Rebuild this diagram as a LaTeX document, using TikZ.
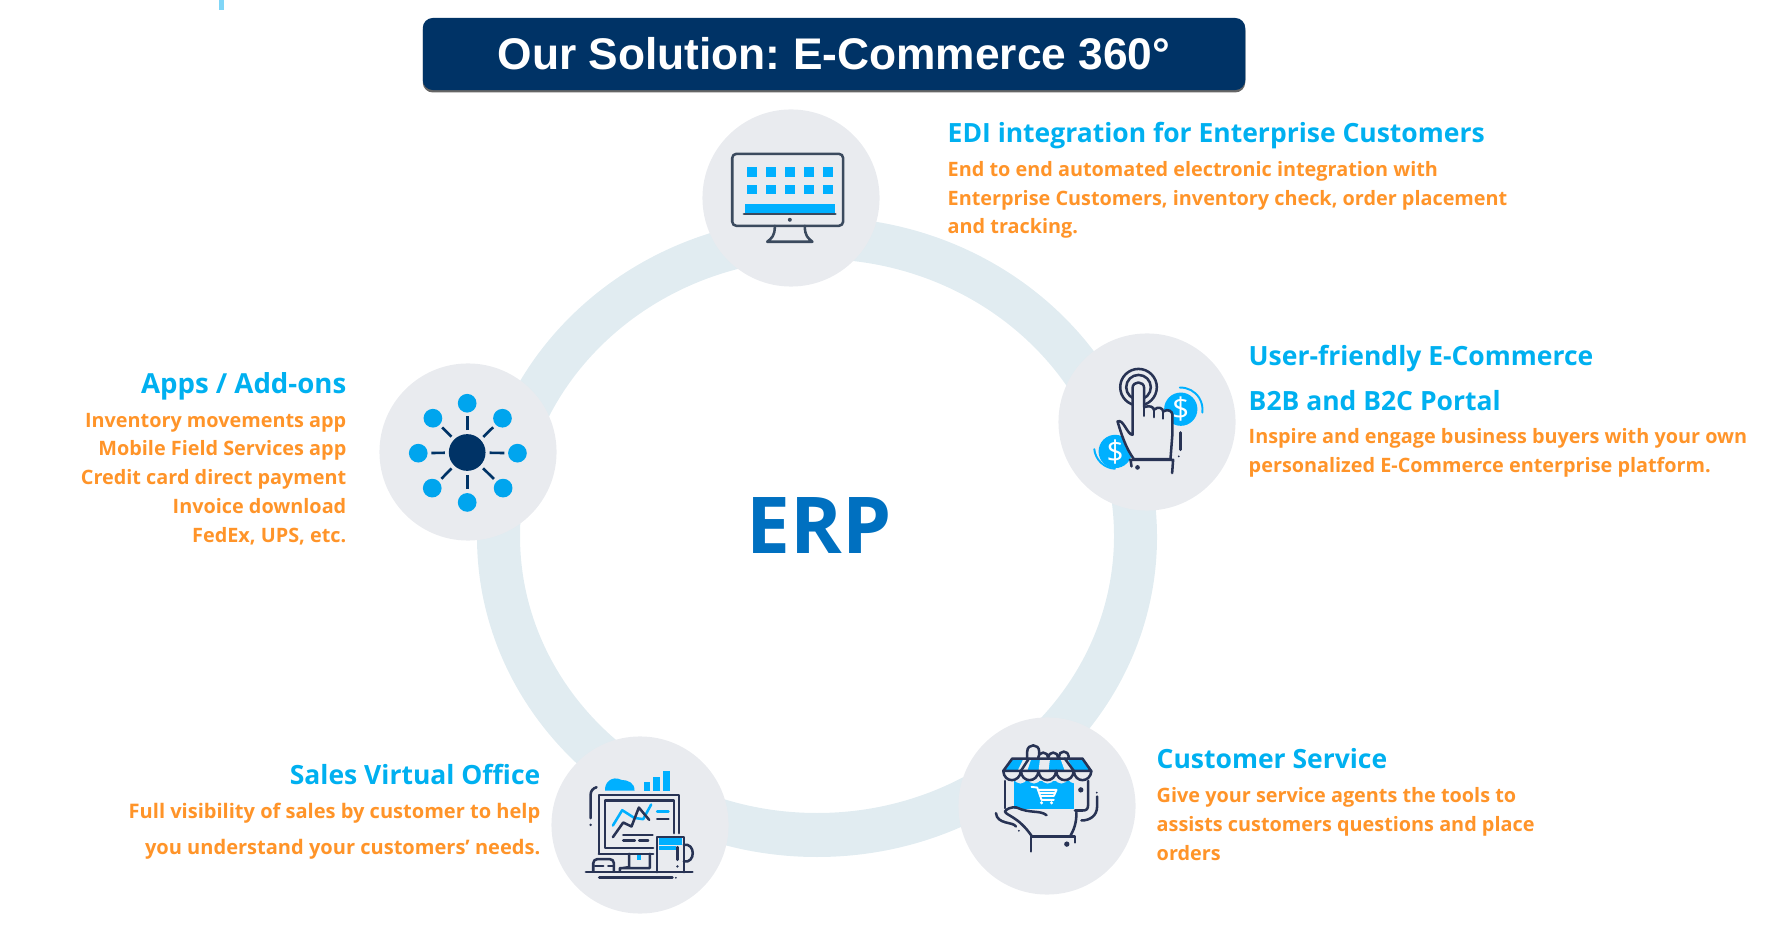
\documentclass[tikz,border=0pt]{standalone}
\usepackage{fontspec}
\setmainfont{Open Sans}
\newfontfamily\titlefont{Liberation Sans}
\usetikzlibrary{shadows}

\definecolor{navy}{HTML}{003366}
\definecolor{ringblue}{HTML}{E1ECF1}
\definecolor{padgray}{HTML}{E9EBEF}
\definecolor{headblue}{HTML}{00B0F0}
\definecolor{bodyorange}{HTML}{FF9429}
\definecolor{erpblue}{HTML}{0070C0}
\definecolor{iconcyan}{HTML}{00B0FF}
\definecolor{icondark}{HTML}{283354}
\definecolor{screendark}{HTML}{3B4A5E}
\definecolor{leafblue}{HTML}{00A5EE}

\tikzset{
  pad/.style={circle,fill=padgray,inner sep=0,minimum size=1.77cm},
  headtext/.style={anchor=west,inner sep=0,text=headblue,font=\fontsize{7.53}{13}\selectfont\bfseries},
  bodytext/.style={anchor=west,inner sep=0,text=bodyorange,font=\fontsize{5.64}{8.2}\selectfont\bfseries},
  iconline/.style={draw=icondark,line width=0.72pt,line cap=round,line join=round},
  coinlabel/.style={inner sep=0,text=white,font=\fontsize{8.5}{9}\selectfont},
  zoomed/.style={x=0.003333cm,y=-0.003333cm},
}

\begin{document}
\begin{tikzpicture}[x=0.01cm,y=-0.01cm]
  \useasboundingbox (0,0) rectangle (1767,934);

  \fill[ringblue,even odd rule] (817,537) ellipse [x radius=340,y radius=320]
    (817,536) ellipse [x radius=297,y radius=277];
  \fill[cyan!50] (219,0) rectangle (224,10);

  \node[rectangle,rounded corners=0.1cm,fill=navy,minimum width=8.22cm,minimum height=0.72cm,inner sep=0,
    drop shadow={shadow xshift=0pt,shadow yshift=-0.7pt,opacity=0.6,fill=black},
    text=white,font=\titlefont\fontsize{12.6}{15}\selectfont\bfseries\frenchspacing] (title) at (834,54) {Our Solution: E-Commerce 360°};

  \node[pad] (padedi) at (791,198) {};
  \node[pad] (padportal) at (1147,422) {};
  \node[pad] (padservice) at (1047,806) {};
  \node[pad] (padsales) at (640,825) {};
  \node[pad] (padapps) at (468,452) {};

  \node[inner sep=0,text=erpblue,font=\fontsize{22.3}{26}\selectfont\bfseries] (erp) at (819,526) {ERP};

  \node[headtext] (headedi) at (947,136) {EDI integration for Enterprise Customers};
  \node[bodytext,align=left] (bodyedi) at (947,200) {End to end automated electronic integration with\\
    Enterprise Customers, inventory check, order placement\\and tracking.};

  \node[headtext,align=left] (headportal) at (1248,378) {User-friendly E-Commerce\\B2B and B2C Portal};
  \node[bodytext,align=left] (bodyportal) at (1248,453) {Inspire and engage business buyers with your own\\
    personalized E-Commerce enterprise platform.};

  \node[headtext] (headservice) at (1156,759) {Customer Service};
  \node[bodytext,align=left] (bodyservice) at (1156,824) {Give your service agents the tools to\\
    assists customers questions and place\\orders};

  \node[headtext,anchor=east] (headsales) at (541,774) {Sales Virtual Office};
  \node[bodytext,anchor=east,align=right,font=\fontsize{5.7}{10.2}\selectfont\bfseries] (bodysales) at (541,831)
    {Full visibility of sales by customer to help\\you understand your customers’ needs.};

  \node[headtext,anchor=east,font=\fontsize{7.85}{13}\selectfont\bfseries] (headapps) at (347,386) {Apps / Add-ons};
  \node[bodytext,anchor=east,align=right] (bodyapps) at (347,479) {Inventory movements app\\Mobile Field Services app\\
    Credit card direct payment\\Invoice download\\FedEx, UPS, etc.};

  % monitor
  \begin{scope}[shift={(680,90)},zoomed]
    \foreach \x in {200,258,315,373,431} {
      \foreach \y in {231,284} {
        \fill[iconcyan] (\x,\y) rectangle ++(30,30);
      }
    }
    \fill[iconcyan] (194,342) rectangle (466,372);
    \draw[iconline,draw=screendark,rounded corners=0.04cm] (157,192) rectangle (490,408);
    \draw[iconline,draw=screendark] (192,373) -- (467,373);
    \fill[screendark] (330,390) circle [radius=6];
    \draw[iconline,draw=screendark] (285,408) .. controls (285,440) and (275,445) .. (262,456)
      -- (398,456) .. controls (385,445) and (375,440) .. (375,408);
  \end{scope}

  % hand and coins
  \begin{scope}[shift={(1040,320)},zoomed]
    \fill[iconcyan] (423,268) circle [radius=50];
    \fill[iconcyan] (226,395) circle [radius=50];
    \node[coinlabel] (coinright) at (423,268) {\$};
    \node[coinlabel] (coinleft) at (226,397) {\$};
    \draw[line width=0.55pt,draw=iconcyan,line cap=round] (420,203) arc [start angle=-92,end angle=8,radius=66];
    \draw[line width=0.55pt,draw=iconcyan,line cap=round] (163,388) arc [start angle=174,end angle=93,radius=66];
    \draw[iconline] (296,202) circle [radius=55];
    \draw[iconline] (296,202) circle [radius=37];
    \draw[iconline,fill=padgray] (282,418) .. controls (258,385) and (245,345) .. (233,305)
      .. controls (250,295) and (262,345) .. (278,345) -- (278,205)
      .. controls (278,182) and (313,182) .. (313,205) -- (313,262)
      .. controls (330,255) and (342,262) .. (342,270)
      .. controls (355,258) and (370,265) .. (370,275)
      .. controls (385,265) and (398,275) .. (398,285) -- (398,340) -- (392,418) -- cycle;
    \draw[iconline] (313,262) -- (313,288) (342,270) -- (342,292) (370,275) -- (370,296);
    \draw[iconline] (270,420) -- (400,420) -- (397,460) (272,420) -- (275,440);
    \fill[icondark] (293,443) circle [radius=7];
    \draw[iconline] (422,338) -- (422,390);
    \fill[icondark] (417,410) circle [radius=3];
  \end{scope}

  % shop on a phone
  \begin{scope}[shift={(950,710)},zoomed]
    \fill[iconcyan] (191,213) rectangle (372,298);
    \foreach \x in {191,232,273,314,355} {
      \fill[padgray] (\x,206) .. controls (\x+8,226) and (\x+33,226) .. (\x+41,206) -- cycle;
    }
    \draw[iconline,fill=padgray] (232,150) -- (232,125) .. controls (232,100) and (268,100) .. (268,125) -- (268,150);
    \foreach \x/\y in {280/143,310/143,342/140} {
      \draw[iconline,fill=padgray] (\x,\y) circle [radius=15];
    }
    \fill[iconcyan] (187,146) -- (398,146) -- (424,183) -- (160,183) -- cycle;
    \foreach \x in {160,213,266,319,372} {
      \draw[iconline,fill=padgray] (\x,183) .. controls (\x+2,220) and (\x+50,220) .. (\x+53,183);
    }
    \fill[padgray] (219,150) -- (243,150) -- (232,183) -- (203,183) -- cycle;
    \fill[padgray] (270,150) -- (300,150) -- (296,183) -- (266,183) -- cycle;
    \fill[padgray] (333,150) -- (355,150) -- (372,183) -- (345,183) -- cycle;
    \draw[iconline] (187,146) -- (398,146) -- (424,183) -- (160,183) -- cycle;
    \draw[iconline] (237,146) -- (213,183) (345,146) -- (372,183);
    \draw[iconline] (165,213) -- (165,295);
    \draw[iconline] (415,213) -- (415,285) .. controls (415,298) and (410,302) .. (398,302) -- (375,302);
    \fill[icondark] (393,240) circle [radius=8];
    % cart
    \draw[white,line width=0.55pt,line cap=round,line join=round] (245,231) -- (262,233) -- (275,270) -- (312,270)
      (265,240) -- (320,240) -- (312,258) -- (271,258) (268,249) -- (316,249);
    \fill[white] (275,279) circle [radius=5] (305,279) circle [radius=5];
    % hand
    \draw[iconline] (290,316) .. controls (270,300) and (240,312) .. (200,293) .. controls (185,290) and (168,298) .. (165,305)
      .. controls (170,318) and (205,320) .. (245,378);
    \draw[iconline] (380,308) .. controls (380,340) and (372,360) .. (362,378);
    \draw[iconline] (375,398) -- (375,380) -- (243,380) -- (243,425);
    \fill[icondark] (351,403) circle [radius=8];
    \draw[iconline] (138,310) .. controls (142,345) and (190,335) .. (198,350);
    \fill[icondark] (207,363) circle [radius=3];
    \draw[iconline] (442,260) -- (442,290) .. controls (442,318) and (420,332) .. (395,332);
    \fill[icondark] (441,248) circle [radius=3];
  \end{scope}

  % desk with screen and mug
  \begin{scope}[shift={(540,730)},zoomed]
    \fill[iconcyan] (196,182) .. controls (192,160) and (215,135) .. (245,150)
      .. controls (265,150) and (285,160) .. (284,182) -- cycle;
    \fill[iconcyan] (311,157) rectangle (331,182);
    \fill[iconcyan] (341,140) rectangle (362,182);
    \fill[iconcyan] (371,124) rectangle (392,182);
    \draw[iconline] (177,372) -- (177,195) -- (418,195) -- (418,310);
    \draw[iconline] (340,372) -- (177,372);
    \draw[iconline] (340,354) -- (195,354) -- (195,212) -- (402,212) -- (402,310);
    \draw[iconline,draw=iconcyan] (219,287) -- (247,241) -- (283,264) -- (310,268) -- (334,224);
    \draw[iconline] (219,322) -- (250,278) -- (275,290) -- (297,233) -- (328,270);
    \draw[iconline,draw=iconcyan] (352,245) -- (386,245);
    \draw[iconline] (352,268) -- (386,268);
    \draw[iconline] (250,315) -- (338,315) (250,332) -- (285,332) (298,332) -- (325,332);
    \fill[iconcyan] (290,376) rectangle (303,392);
    \draw[iconline] (268,372) -- (268,412) -- (240,416) -- (240,425) (330,372) -- (330,415) -- (240,415);
    \fill[iconcyan] (358,326) rectangle (428,345);
    \fill[iconcyan] (358,350) rectangle (410,362);
    \draw[iconline] (352,427) -- (352,322) -- (432,322) -- (432,427);
    \draw[iconline] (432,345) .. controls (468,338) and (468,402) .. (432,395);
    \draw[iconline] (413,352) -- (413,390);
    \fill[icondark] (413,410) circle [radius=4];
    \draw[iconline] (138,427) -- (458,427);
    \draw[iconline] (178,444) -- (398,444);
    \fill[icondark] (408,444) circle [radius=3];
    \draw[iconline,rounded corners=0.04cm] (160,425) -- (160,388) -- (222,388) -- (222,425);
    \draw[iconline] (165,408) -- (190,408) (205,408) -- (222,408);
    \draw[iconline] (152,265) -- (152,195) .. controls (152,182) and (160,175) .. (170,172);
    \fill[icondark] (152,285) circle [radius=4];
  \end{scope}

  % hub and leaves
  \begin{scope}[shift={(370,350)},zoomed]
    \node[circle,fill=navy,inner sep=0,minimum size=0.367cm] (hub) at (292,308) {};
    \foreach \i/\x/\y in {1/292/160,2/398/205,3/443/310,4/400/415,5/292/458,6/187/415,7/145/310,8/189/205} {
      \node[circle,fill=leafblue,inner sep=0,minimum size=0.187cm] (leaf\i) at (\x,\y) {};
      \draw[navy,line width=0.75pt,shorten <=0.033cm,shorten >=0.03cm] (hub) -- (leaf\i);
    }
  \end{scope}
\end{tikzpicture}
\end{document}
